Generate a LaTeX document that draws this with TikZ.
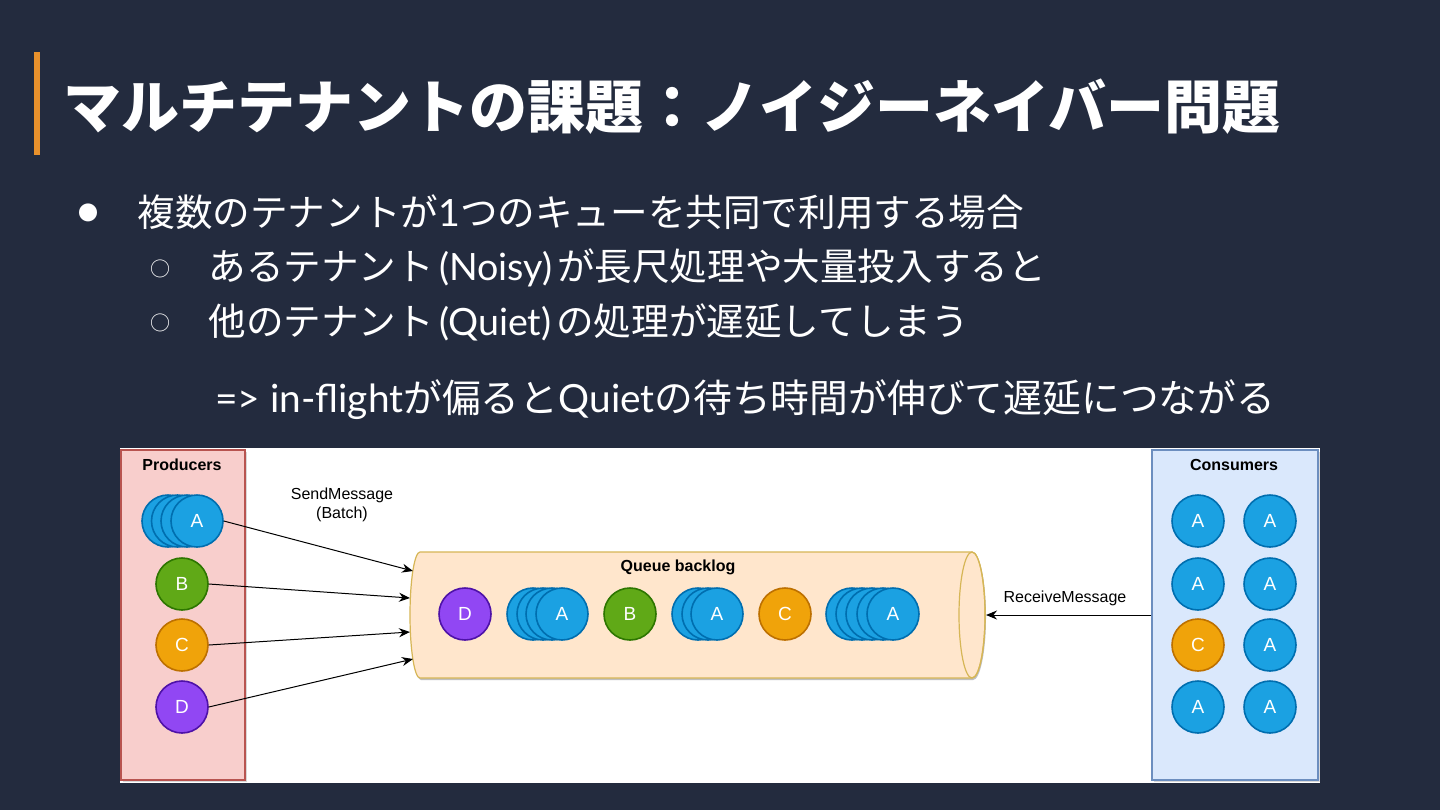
\documentclass[tikz,border=0pt]{standalone}
\usepackage{fontspec}
\setmainfont{Lato}
\newfontfamily\jp{Noto Sans CJK JP}
\newfontfamily\hv{Liberation Sans}
\usepackage{tikz}
\usetikzlibrary{arrows.meta,positioning,shadows}
\definecolor{ctBg}{HTML}{232B3E}
\definecolor{ctBar}{HTML}{E8912C}
\definecolor{ctPink}{HTML}{F8CECC}
\definecolor{ctPinkD}{HTML}{B85450}
\definecolor{ctSky}{HTML}{DAE8FC}
\definecolor{ctSkyD}{HTML}{6C8EBF}
\definecolor{ctA}{HTML}{1BA1E2}
\definecolor{ctAd}{HTML}{006EAF}
\definecolor{ctB}{HTML}{60A917}
\definecolor{ctBd}{HTML}{2D7600}
\definecolor{ctC}{HTML}{F0A30A}
\definecolor{ctCd}{HTML}{BD7000}
\definecolor{ctD}{HTML}{9147F3}
\definecolor{ctDd}{HTML}{4E12A8}
\definecolor{ctQ}{HTML}{FFE6CC}
\definecolor{ctQd}{HTML}{D6B656}
\newcommand{\bodyfont}{\fontsize{18.8}{22}\selectfont}
\newcommand{\lp}{\kern2.5pt(}
\newcommand{\rp}{)\kern2.5pt}

\begin{document}
\begin{tikzpicture}[x=0.5pt,y=-0.5pt,every node/.style={inner sep=0pt},>={Stealth[length=5.5pt,width=4.5pt]},
  tenant/.style={circle,minimum size=26pt,line width=0.8pt,text=white,font=\hv\fontsize{9.5}{9.5}\selectfont},
  tA/.style={tenant,fill=ctA,draw=ctAd},
  tB/.style={tenant,fill=ctB,draw=ctBd},
  tC/.style={tenant,fill=ctC,draw=ctCd},
  tD/.style={tenant,fill=ctD,draw=ctDd},
  panel/.style={rectangle,line width=0.6pt,minimum height=165pt,drop shadow={opacity=0.3,shadow xshift=1pt,shadow yshift=-1pt}},
  lbl/.style={font=\hv\fontsize{8}{9.6}\selectfont,align=center},
  hdr/.style={font=\hv\bfseries\fontsize{8}{9.6}\selectfont},
  line/.style={anchor=west,text=white,font=\bodyfont}]
  \fill[ctBg] (0,0) rectangle (1440,810);
  \useasboundingbox (0,0) rectangle (1440,810);

  % title
  \fill[ctBar] (34,52) rectangle (40,155);
  \node[anchor=west,text=white,font=\jp\bfseries\fontsize{29}{34}\selectfont] (title) at (63,107)
    {マルチテナントの課題：ノイジーネイバー問題};

  % bullets
  \node[text=white,font=\jp\fontsize{10}{10}\selectfont] (b1) at (88,213) {●};
  \node[line] (t1) at (137,212) {{\jp 複数のテナントが}1{\jp つのキューを共同で利用する場合}};
  \node[text=white,font=\jp\fontsize{10}{10}\selectfont] (b2) at (160,269) {○};
  \node[line] (t2) at (208,268) {{\jp あるテナント}\lp Noisy\rp{\jp が長尺処理や大量投入すると}};
  \node[text=white,font=\jp\fontsize{10}{10}\selectfont] (b3) at (160,323) {○};
  \node[line] (t3) at (208,322) {{\jp 他のテナント}\lp Quiet\rp{\jp の処理が遅延してしまう}};
  \node[line,font=\fontsize{19.4}{22}\selectfont] (t4) at (215,400)
    {=> in-flight{\jp が偏ると}Quiet{\jp の待ち時間が伸びて遅延につながる}};

  % diagram
  \node[fill=white,minimum width=600pt,minimum height=167.5pt] (canvas) at (720,615.5) {};
  \node[panel,fill=ctPink,draw=ctPinkD,minimum width=62pt] (prod) at (183,615) {};
  \node[panel,fill=ctSky,draw=ctSkyD,minimum width=83pt] (cons) at (1235,615) {};
  \node[hdr] (prodT) at (182,465) {Producers};
  \node[hdr] (consT) at (1234,465) {Consumers};

  % producers
  \foreach \i/\x in {1/168,2/177.5,3/187}
    \node[tA] (pA\i) at (\x,521) {};
  \node[tA] (pA) at (197,521) {A};
  \node[tB] (pB) at (182,584) {B};
  \node[tC] (pC) at (182,645) {C};
  \node[tD] (pD) at (182,707) {D};

  % queue
  \fill[black!25] (421,554) arc[start angle=270,end angle=90,x radius=10,y radius=63]
    -- (973,680) arc[start angle=90,end angle=-90,x radius=13,y radius=63] -- cycle;
  \filldraw[fill=ctQ,draw=ctQd,line width=0.6pt] (420,552) arc[start angle=270,end angle=90,x radius=10,y radius=63]
    -- (972,678) arc[start angle=90,end angle=-90,x radius=13,y radius=63] -- cycle;
  \draw[ctQd,line width=0.6pt] (972,615) ellipse[x radius=13,y radius=63];
  \node[hdr] (qT) at (678,567) {Queue backlog};
  \coordinate (qIn1) at (413,571);
  \coordinate (qIn2) at (410,598);
  \coordinate (qIn3) at (410,632);
  \coordinate (qIn4) at (413,659);
  \coordinate (qOut) at (986,615);

  \node[tD] (qD) at (465,614) {D};
  \foreach \i/\x in {1/533,2/543,3/552}
    \node[tA] (qA1\i) at (\x,614) {};
  \node[tA] (qA1) at (562,614) {A};
  \node[tB] (qB) at (630,614) {B};
  \foreach \i/\x in {1/698,2/708}
    \node[tA] (qA2\i) at (\x,614) {};
  \node[tA] (qA2) at (717,614) {A};
  \node[tC] (qC) at (785,614) {C};
  \foreach \i/\x in {1/852,2/862,3/872,4/883}
    \node[tA] (qA3\i) at (\x,614) {};
  \node[tA] (qA3) at (893,614) {A};

  % consumers
  \foreach \r/\y/\s/\l in {1/521/tA/A,2/584/tA/A,3/645/tC/C,4/707/tA/A}{
    \node[\s] (cL\r) at (1198,\y) {\l};
    \node[tA] (cR\r) at (1270,\y) {A};
  }

  % connectors
  \draw[->,line width=0.5pt] (pA.east) -- (qIn1);
  \draw[->,line width=0.5pt] (pB.east) -- (qIn2);
  \draw[->,line width=0.5pt] (pC.east) -- (qIn3);
  \draw[->,line width=0.5pt] (pD.east) -- (qIn4);
  \draw[->,line width=0.5pt] (cons.west) -- (qOut);
  \node[lbl] (sendL) at (342,505) {SendMessage\\(Batch)};
  \node[lbl] (recvL) at (1065,598) {ReceiveMessage};
\end{tikzpicture}
\end{document}
